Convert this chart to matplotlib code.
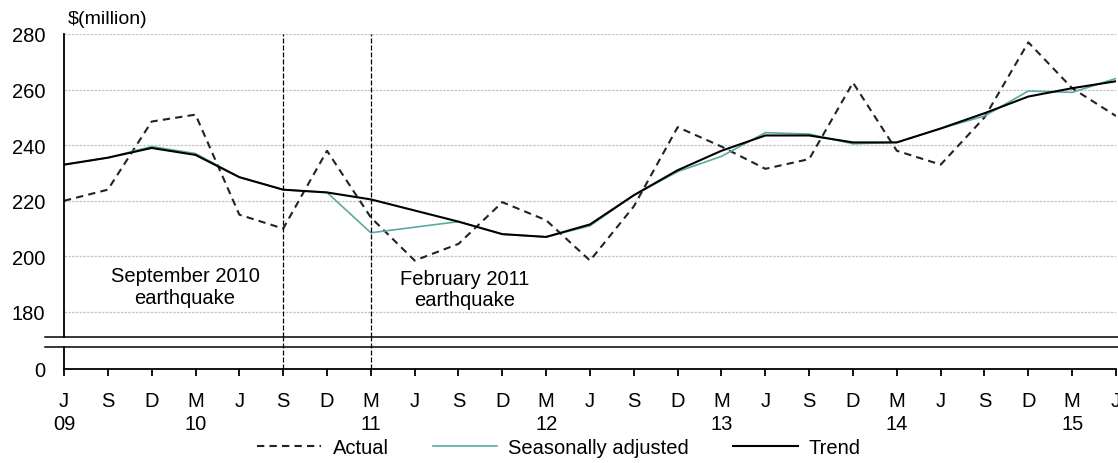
import numpy as np
import matplotlib
matplotlib.use('Agg')
import matplotlib.pyplot as plt
from matplotlib.lines import Line2D

plt.rcParams['font.family'] = ['Liberation Sans', 'DejaVu Sans']
plt.rcParams['font.size'] = 14.5

# quarterly, June 2009 to June 2015
month_labels = ['J', 'S', 'D', 'M', 'J', 'S', 'D', 'M', 'J', 'S', 'D', 'M', 'J',
                'S', 'D', 'M', 'J', 'S', 'D', 'M', 'J', 'S', 'D', 'M', 'J']
year_labels = ['09', '', '', '10', '', '', '', '11', '', '', '', '12', '',
               '', '', '13', '', '', '', '14', '', '', '', '15', '']

actual = [220, 224, 248.5, 251, 215, 210, 238, 214, 198.5, 204.5, 219.5, 213, 198.5,
          218, 246.5, 239.5, 231.5, 235, 262.5, 238, 233, 250, 277, 260.5, 250.5]
seas_adj = [233, 235.5, 239.5, 237, 228.5, 224, 223, 208.5, 210.5, 212.5, 208, 207, 211,
            222, 230.5, 236, 244.5, 244, 240.5, 241, 246, 250.5, 259.5, 259, 264]
trend = [233, 235.5, 239, 236.5, 228.5, 224, 223, 220.5, 216.5, 212.5, 208, 207, 211.5,
         222, 231, 238, 243.5, 243.5, 241, 241, 246, 251.5, 257.5, 260.5, 263]

quakes = [5, 7]   # S10 and M11
quake_text = ['September 2010\nearthquake', 'February 2011\nearthquake']
quake_text_pos = [(2.76, 189.2), (9.15, 188.4)]

x = np.arange(len(actual))
teal = '#5aa9a3'
grid_col = '#c4c4c4'

W, H = 1118, 464
fig = plt.figure(figsize=(W / 100, H / 100), dpi=100)

left = 64 / W
width = (1116 - 64) / W
ax = fig.add_axes([left, 1 - 338 / H, width, 303 / H])
ax0 = fig.add_axes([left, 1 - 370 / H, width, 22 / H])

ax.plot(x, actual, color='#222222', lw=1.5, ls=(0, (3.5, 2.5)), label='Actual')
ax.plot(x, seas_adj, color=teal, lw=1.2, label='Seasonally adjusted')
ax.plot(x, trend, color='black', lw=1.5, label='Trend')

ax.set_xlim(0, 24)
ax.set_ylim(171, 280)
ax.set_yticks([180, 200, 220, 240, 260, 280])
for v in [180, 200, 220, 240, 260, 280]:
    ax.axhline(v, color=grid_col, lw=0.9, ls=(0, (2, 1)), zorder=0.5)
ax.tick_params(axis='y', length=0, pad=13.5)
ax.set_xticks([])
for s in ['top', 'right', 'bottom']:
    ax.spines[s].set_visible(False)
ax.spines['left'].set_linewidth(1.3)

# lower stub of the broken axis
ax0.set_xlim(0, 24)
ax0.set_ylim(0, 10)
ax0.set_yticks([0])
ax0.tick_params(axis='y', length=0, pad=13.5)
ax0.set_xticks(x)
ax0.set_xticklabels([m + '\n' + y for m, y in zip(month_labels, year_labels)],
                    linespacing=1.27, va='top')
ax0.tick_params(axis='x', length=5, width=1.3, pad=10.5, direction='out')
for s in ['top', 'right']:
    ax0.spines[s].set_visible(False)
ax0.spines['left'].set_linewidth(1.3)
ax0.spines['bottom'].set_linewidth(1.3)

# earthquake markers
gap = 10 / 22
for q in quakes:
    ax.axvline(q, color='black', lw=0.9, ls=(0, (4, 1.6)))
    ax0.axvline(q, ymin=0, ymax=1 + gap, color='black', lw=0.9, ls=(0, (4, 1.6)), clip_on=False)
for t, (tx, ty) in zip(quake_text, quake_text_pos):
    ax.text(tx, ty, t, ha='center', va='center', linespacing=1.15)

# break lines
for yb in [338, 348]:
    fig.add_artist(Line2D([45 / W, 1.0], [1 - yb / H, 1 - yb / H], color='black', lw=1.1))

fig.text(68 / W, 1 - 19 / H, '$(million)', ha='left', va='center', fontsize=14)

fig.legend(loc='center', bbox_to_anchor=(0.5, 1 - 449 / H), ncol=3, frameon=False,
           handlelength=3.2, handletextpad=0.55, columnspacing=2.2, fontsize=14.5)

fig.savefig('out.png', dpi=100)
